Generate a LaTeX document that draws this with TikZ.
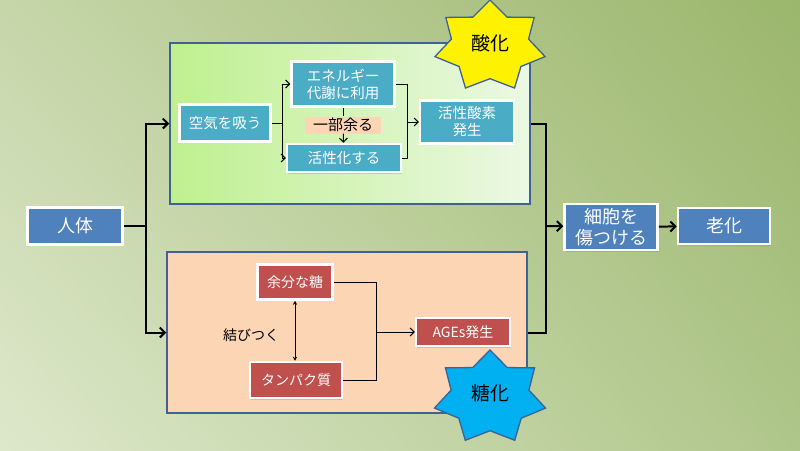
\documentclass[tikz,border=0pt]{standalone}
\usepackage{fontspec}
\newfontfamily\jpfont{Noto Sans CJK JP}
\usetikzlibrary{arrows.meta,shadows,shadings}
\definecolor{bgTL}{HTML}{C6D6A9}
\definecolor{bgTR}{HTML}{9BB66C}
\definecolor{bgBL}{HTML}{DDE8CB}
\definecolor{bgBR}{HTML}{AFC68A}
\definecolor{frame}{HTML}{3F6193}
\definecolor{oxleft}{HTML}{BFF08F}
\definecolor{oxright}{HTML}{ECF8E4}
\definecolor{peach}{HTML}{FCD5B5}
\definecolor{tealbox}{HTML}{4BACC6}
\definecolor{redbox}{HTML}{C0504D}
\definecolor{bluebox}{HTML}{4F81BD}
\definecolor{starblue}{HTML}{00B0F0}
\tikzset{
  proc/.style={draw=white, line width=2.5pt, text=white, inner sep=1pt, align=center,
    drop shadow={shadow xshift=1pt, shadow yshift=-1.5pt, opacity=0.3}},
  airproc/.style={proc, fill=tealbox, font=\jpfont\fontsize{14.5}{17}\selectfont},
  sugarproc/.style={proc, fill=redbox, font=\jpfont\fontsize{14}{17}\selectfont},
  bigproc/.style={proc, fill=bluebox, font=\jpfont\fontsize{18}{21}\selectfont},
  stage/.style={draw=frame, line width=1.5pt, minimum width=360pt, minimum height=161pt},
  burst/.style={draw=frame, line width=1.3pt, line join=miter},
  burstlabel/.style={font=\jpfont\fontsize{19}{22}\selectfont},
  link/.style={line width=1pt},
  flow/.style={link, -{Straight Barb[length=4pt, width=8pt]}},
  mainlink/.style={line width=2pt},
  mainflow/.style={mainlink, -{Straight Barb[length=5pt, width=10pt, line width=2pt]}}
}
\begin{document}
\begin{tikzpicture}[x=1pt, y=-1pt]
  \useasboundingbox (0,0) rectangle (800,450);
  \shade[upper left=bgTL, upper right=bgTR, lower left=bgBL, lower right=bgBR] (0,0) rectangle (800,450);

  \node[stage, left color=oxleft, right color=oxright] (oxbox) at (350,123.5) {};
  \node[stage, fill=peach] (glybox) at (347,332.5) {};

  % seven-pointed bursts, stretched sideways
  \draw[burst, fill=yellow] plot[samples at={0,...,13}]
    ({490+56.5*(1-0.3*mod(\x,2))*cos(90+\x*360/14)}, {46.3-46.3*(1-0.3*mod(\x,2))*sin(90+\x*360/14)}) -- cycle;
  \draw[burst, fill=starblue] plot[samples at={0,...,13}]
    ({490+57*(1-0.3*mod(\x,2))*cos(90+\x*360/14)}, {397.5-47.5*(1-0.3*mod(\x,2))*sin(90+\x*360/14)}) -- cycle;
  \node[burstlabel] (oxlabel) at (490,43) {酸化};
  \node[burstlabel] (glylabel) at (490,393) {糖化};

  \node[bigproc, minimum width=95pt, minimum height=37pt] (body) at (75,226) {人体};
  \node[bigproc, minimum width=93pt, minimum height=46pt] (cell) at (611,227) {細胞を\\傷つける};
  \node[bigproc, minimum width=92pt, minimum height=36pt] (aging) at (724,226) {老化};

  \node[airproc, minimum width=91pt, minimum height=37pt] (air) at (225,123) {空気を吸う};
  \node[airproc, minimum width=103pt, minimum height=45pt] (energy) at (343,84) {エネルギー\\代謝に利用};
  \node[airproc, minimum width=114pt, minimum height=28pt] (activate) at (344,158) {活性化する};
  \node[airproc, minimum width=94pt, minimum height=43pt] (ros) at (467,122) {活性酸素\\発生};
  \node[fill=peach, inner sep=1pt, minimum width=76pt, minimum height=17pt,
    font=\jpfont\fontsize{15}{17}\selectfont] (extra) at (343,125) {一部余る};

  \node[sugarproc, minimum width=75pt, minimum height=35pt] (sugar) at (295,282) {余分な糖};
  \node[sugarproc, minimum width=92pt, minimum height=36pt] (protein) at (296,380) {タンパク質};
  \node[sugarproc, minimum width=94pt, minimum height=28pt] (ages) at (463,332) {AGEs発生};
  \node[font=\jpfont\fontsize{14}{17}\selectfont] (bind) at (251,335) {結びつく};

  \coordinate (split) at (146,226);
  \coordinate (merge) at (546,226);
  \coordinate (airsplit) at (282,123);
  \coordinate (rosjoin) at (407,122);
  \coordinate (agesjoin) at (376,332);

  \draw[mainlink] (body) -- (split);
  \draw[mainflow] (split) |- (oxbox.west);
  \draw[mainflow] (split) |- (glybox.west);
  \draw[mainlink] (oxbox.east) -| (merge);
  \draw[mainlink] (glybox.east) -| (merge);
  \draw[mainflow] (merge) -- (cell);
  \draw[mainflow] (cell) -- (aging);

  \draw[link] (air) -- (airsplit);
  \draw[flow] (airsplit) |- (energy.west);
  \draw[flow] (airsplit) |- (activate.west);
  \draw[link] (energy.east) -| (rosjoin);
  \draw[link] (activate.east) -| (rosjoin);
  \draw[flow] (rosjoin) -- (ros);
  \draw[link] (energy) -- (extra);
  \draw[flow] (extra) -- (activate);

  \draw[link, {Stealth[length=4pt, width=4pt]}-{Stealth[length=4pt, width=4pt]}] (sugar.south) -- (sugar.south |- protein.north);
  \draw[link] (sugar.east) -| (agesjoin);
  \draw[link] (protein.east) -| (agesjoin);
  \draw[flow] (agesjoin) -- (ages);
\end{tikzpicture}
\end{document}
